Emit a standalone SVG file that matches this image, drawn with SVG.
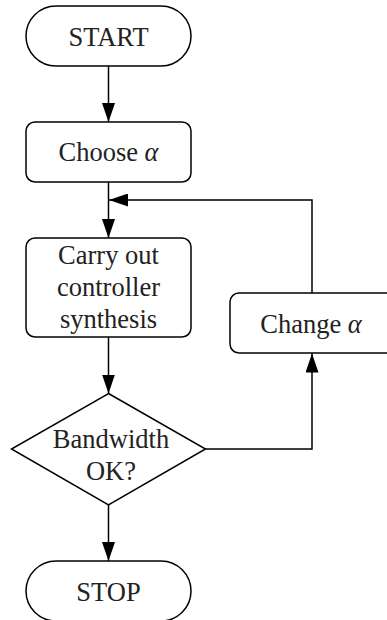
<svg xmlns="http://www.w3.org/2000/svg" width="387" height="620" viewBox="0 0 387 620">
  <style>
    .box { fill: #ffffff; stroke: #000000; stroke-width: 1.5; }
    .line { fill: none; stroke: #000000; stroke-width: 1.5; }
    .lbl { font-family: "Liberation Serif", "Times New Roman", serif; font-size: 26.5px; fill: #222222; text-anchor: middle; }
    .math { font-style: italic; }
  </style>
  <defs>
    <marker id="arrow" viewBox="0 0 19 13" refX="19" refY="6.5" markerWidth="19" markerHeight="13" markerUnits="userSpaceOnUse" orient="auto">
      <path d="M0,0 L19,6.5 L0,13 Z" fill="#000000"/>
    </marker>
  </defs>
  <rect width="387" height="620" fill="#ffffff"/>

  <g id="connectors">
    <line class="line" x1="108.5" y1="66" x2="108.5" y2="122" marker-end="url(#arrow)"/>
    <line class="line" x1="108.5" y1="182" x2="108.5" y2="238" marker-end="url(#arrow)"/>
    <polyline class="line" points="312,293 312,200 109,200" marker-end="url(#arrow)"/>
    <line class="line" x1="108.5" y1="337" x2="108.5" y2="393.5" marker-end="url(#arrow)"/>
    <polyline class="line" points="205.5,449 312,449 312,353.5" marker-end="url(#arrow)"/>
    <line class="line" x1="108.5" y1="505" x2="108.5" y2="561" marker-end="url(#arrow)"/>
  </g>

  <g id="start">
    <rect class="box" x="26" y="6" width="165" height="60" rx="30" ry="30"/>
    <text class="lbl" x="108.5" y="46">START</text>
  </g>

  <g id="choose">
    <rect class="box" x="26" y="122" width="165" height="60" rx="9" ry="9"/>
    <text class="lbl" x="108.5" y="161">Choose <tspan class="math">α</tspan></text>
  </g>

  <g id="synthesis">
    <rect class="box" x="26" y="238" width="165" height="99" rx="9" ry="9"/>
    <text class="lbl" x="108.5" y="264">Carry out</text>
    <text class="lbl" x="108.5" y="296">controller</text>
    <text class="lbl" x="108.5" y="328">synthesis</text>
  </g>

  <g id="change">
    <rect class="box" x="230" y="293" width="165" height="60" rx="9" ry="9"/>
    <text class="lbl" x="311" y="333">Change <tspan class="math">α</tspan></text>
  </g>

  <g id="decision">
    <polygon class="box" points="108.5,393.5 205.5,449 108.5,505 11.5,449"/>
    <text class="lbl" x="111" y="448">Bandwidth</text>
    <text class="lbl" x="111" y="480">OK?</text>
  </g>

  <g id="stop">
    <rect class="box" x="26" y="561" width="165" height="60" rx="30" ry="30"/>
    <text class="lbl" x="108.5" y="601">STOP</text>
  </g>
</svg>
